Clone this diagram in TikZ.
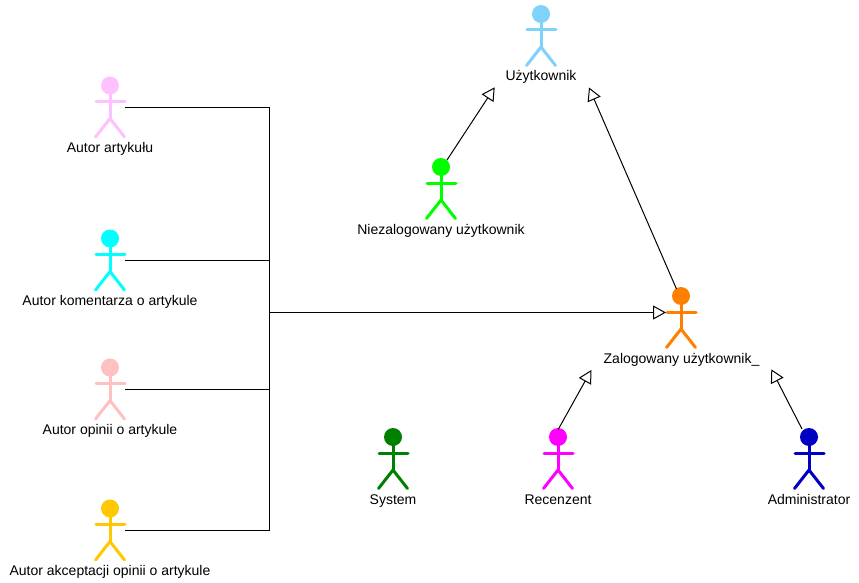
\documentclass[tikz,border=0pt]{standalone}
\usepackage{fontspec}
\setmainfont{Liberation Sans}
\usetikzlibrary{arrows.meta,calc}
\definecolor{cuser}{HTML}{7FD2FA}
\definecolor{cguest}{HTML}{00FF00}
\definecolor{clogged}{HTML}{FF8000}
\definecolor{cauthor}{HTML}{FFC0FF}
\definecolor{ccomment}{HTML}{00FFFF}
\definecolor{copinion}{HTML}{FFC0C0}
\definecolor{caccept}{HTML}{FFC800}
\definecolor{csystem}{HTML}{008000}
\definecolor{creview}{HTML}{FF00FF}
\definecolor{cadmin}{HTML}{0000C0}
\tikzset{
  x=1pt,y=-1pt,
  actorhead/.style={circle,inner sep=0pt,minimum size=18pt},
  actorline/.style={line width=3pt,line cap=round},
  actorlabel/.style={font=\fontsize{14}{16}\selectfont,text=black,inner sep=0pt,anchor=base},
  conn/.style={draw=black,line width=1pt},
  gen/.style={conn,-{Triangle[open,length=13pt,width=14pt,line width=1pt,fill=white]}},
}
% name, x, y (head centre), colour, label
\newcommand{\actorfig}[5]{%
  \node[actorhead,fill=#4] (#1) at (#2,#3) {};
  \draw[actorline,draw=#4] ($(#1)+(0,8)$) -- ($(#1)+(0,33)$) coordinate (#1-hip);
  \draw[actorline,draw=#4] ($(#1)+(-14,16)$) -- ($(#1)+(15,16)$);
  \draw[actorline,draw=#4] ($(#1)+(-14.5,51.5)$) -- (#1-hip) -- ($(#1)+(14.5,51.5)$);
  \coordinate (#1-port) at ($(#1)+(15,22)$);
  \node[actorlabel] (#1-label) at ($(#1)+(0,67)$) {#5};
}
\begin{document}
\begin{tikzpicture}
\useasboundingbox (0,0) rectangle (859,583);
\actorfig{user}{541}{14}{cuser}{Użytkownik}
\actorfig{guest}{441}{167}{cguest}{Niezalogowany użytkownik}
\actorfig{logged}{681}{296}{clogged}{\hspace*{1pt}Zalogowany użytkownik\_}
\actorfig{author}{110}{85.5}{cauthor}{Autor artykułu}
\actorfig{comment}{110}{238.5}{ccomment}{Autor komentarza o artykule}
\actorfig{opinion}{110}{367.5}{copinion}{Autor opinii o artykule}
\actorfig{accept}{110}{508.5}{caccept}{Autor akceptacji opinii o artykule}
\actorfig{system}{393}{437}{csystem}{System}
\actorfig{review}{558}{437}{creview}{Recenzent}
\actorfig{admin}{809}{437}{cadmin}{Administrator}
\coordinate (userL) at (494.7,87.3);
\coordinate (userR) at (589,87.5);
\coordinate (logL) at (591.3,370);
\coordinate (logR) at (771.3,369.3);
\coordinate (bus) at (269.5,312.5);
\draw[gen] ($(guest)+(6,-7)$) -- (userL);
\draw[gen] ($(logged)+(-4.5,-7)$) -- (userR);
\draw[gen] ($(review)+(0.3,-7.7)$) -- (logL);
\draw[gen] ($(admin)+(-7,-8)$) -- (logR);
\draw[conn] (author-port) -| (bus);
\draw[conn] (accept-port) -| (bus);
\draw[conn] (comment-port) -- (comment-port -| bus);
\draw[conn] (opinion-port) -- (opinion-port -| bus);
\draw[gen] (bus) -- ($(logged)+(-15,16.5)$);
\end{tikzpicture}
\end{document}
